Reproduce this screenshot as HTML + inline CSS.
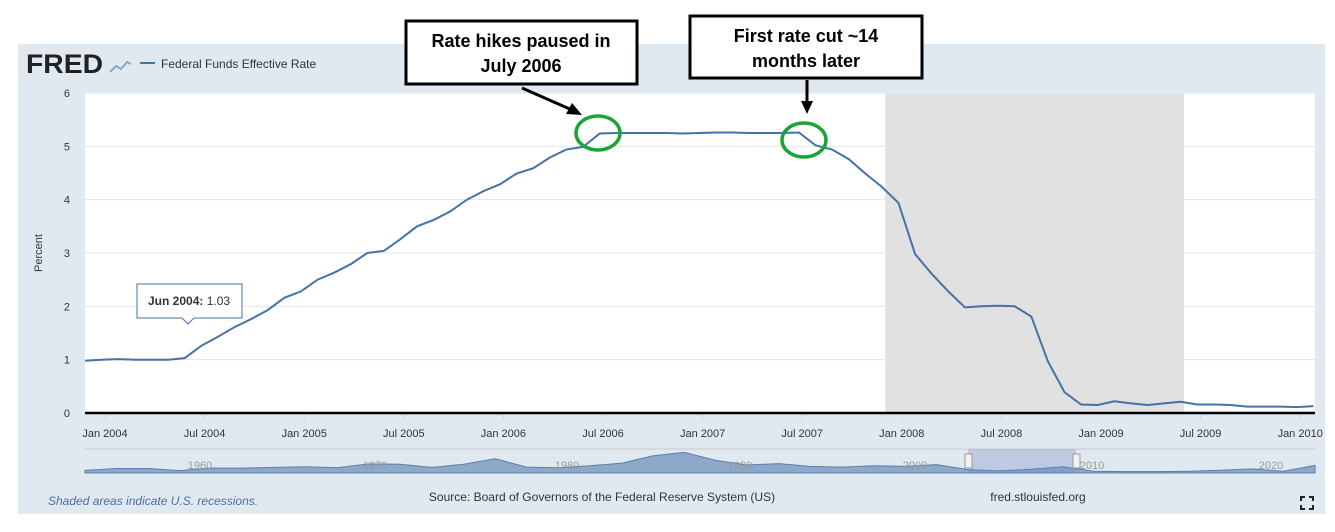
<!DOCTYPE html>
<html><head><meta charset="utf-8"><style>
body{margin:0;width:1335px;height:532px;background:#fff;overflow:hidden;font-family:"Liberation Sans",sans-serif}
svg{display:block}
</style></head><body>
<svg width="1335" height="532">
<rect x="18" y="44" width="1307" height="470" fill="#e1e9f0"/>
<text x="26" y="73" font-size="27" font-weight="bold" fill="#222" textLength="77" lengthAdjust="spacingAndGlyphs">FRED</text>
<polyline points="110,72 116,66 121,69 127,62 131,64" fill="none" stroke="#8aa8bf" stroke-width="2"/>
<line x1="140" y1="63" x2="155" y2="63" stroke="#4572a7" stroke-width="2"/>
<text x="161" y="68" font-size="12" fill="#333">Federal Funds Effective Rate</text>
<rect x="85" y="93" width="1230" height="320" fill="#fff"/>
<g id="rec"></g><g id="grid"></g><g id="xt"></g>
<line x1="85" y1="413" x2="1315" y2="413" stroke="#000" stroke-width="2.5"/>
<text transform="translate(42,253) rotate(-90)" font-size="11" fill="#333" text-anchor="middle">Percent</text>
<g id="nav"></g>
<path id="line" fill="none" stroke="#4572a7" stroke-width="2"/>
<g>
<path d="M137,284 H242 V318 H194 L188,324 L182,318 H137 Z" fill="#fff" stroke="#4572a7" stroke-width="1"/>
<text x="148" y="305" font-size="12" fill="#333"><tspan font-weight="bold">Jun 2004:</tspan> 1.03</text>
</g>
<text x="48" y="505" font-size="12" font-style="italic" fill="#4a6fa5">Shaded areas indicate U.S. recessions.</text>
<text x="602" y="501" font-size="12" fill="#333" text-anchor="middle">Source: Board of Governors of the Federal Reserve System (US)</text>
<text x="1038" y="501" font-size="12" fill="#333" text-anchor="middle">fred.stlouisfed.org</text>
<g stroke="#222" stroke-width="2" fill="none"><path d="M1301,501 v-4 h4 M1309,497 h4 v4 M1313,505 v4 h-4 M1305,509 h-4 v-4"/></g>
<g>
<rect x="406" y="21" width="231" height="63" fill="#fff" stroke="#000" stroke-width="3"/>
<text x="521" y="47" font-size="18" font-weight="bold" text-anchor="middle">Rate hikes paused in</text>
<text x="521" y="72" font-size="18" font-weight="bold" text-anchor="middle">July 2006</text>
<line x1="522" y1="88" x2="572" y2="110" stroke="#000" stroke-width="3"/>
<polygon points="582,115 566,114 572,103" fill="#000"/>
<ellipse cx="598" cy="133" rx="22" ry="17" fill="none" stroke="#1aa336" stroke-width="3.5"/>
</g>
<g>
<rect x="690" y="16" width="232" height="62" fill="#fff" stroke="#000" stroke-width="3"/>
<text x="806" y="42" font-size="18" font-weight="bold" text-anchor="middle">First rate cut ~14</text>
<text x="806" y="67" font-size="18" font-weight="bold" text-anchor="middle">months later</text>
<line x1="807" y1="80" x2="807" y2="104" stroke="#000" stroke-width="3"/>
<polygon points="807,114 801,101 813,101" fill="#000"/>
<ellipse cx="804" cy="140" rx="22" ry="17" fill="none" stroke="#1aa336" stroke-width="3.5"/>
</g>
</svg>
<script>
const values=[0.98,1.00,1.01,1.00,1.00,1.00,1.03,1.26,1.43,1.61,1.76,1.93,2.16,2.28,2.50,2.63,2.79,3.00,3.04,3.26,3.50,3.62,3.78,4.00,4.16,4.29,4.49,4.59,4.79,4.94,4.99,5.24,5.25,5.25,5.25,5.25,5.24,5.25,5.26,5.26,5.25,5.25,5.25,5.26,5.02,4.94,4.76,4.49,4.24,3.94,2.98,2.61,2.28,1.98,2.00,2.01,2.00,1.81,0.97,0.39,0.16,0.15,0.22,0.18,0.15,0.18,0.21,0.16,0.16,0.15,0.12,0.12,0.12,0.11,0.13];
const startMonth=-1.2; // first point just before Jan 2004
const yTicks=[0,1,2,3,4,5,6];
const xTickLabels=["Jan 2004","Jul 2004","Jan 2005","Jul 2005","Jan 2006","Jul 2006","Jan 2007","Jul 2007","Jan 2008","Jul 2008","Jan 2009","Jul 2009","Jan 2010"];
const xTickMonths=[0,6,12,18,24,30,36,42,48,54,60,66,72];
const recession=[47,65];
const navValues=[0.5,1,1,0.4,1.1,1.1,1.3,1.5,1.2,2.3,2.2,1.3,2.2,3.8,1.4,1.2,1.8,2.5,4.6,5.6,3.3,2.0,2.4,1.6,1.4,1.8,1.6,2.1,0.7,0.3,0.8,1.5,0.2,0.1,0.1,0.2,0.5,0.9,0.2,1.9];
const NS="http://www.w3.org/2000/svg";
const xS=m=>105+m*16.6, yS=v=>413-v*(320/6);
function mk(tag,attrs,parent){const e=document.createElementNS(NS,tag);for(const k in attrs)e.setAttribute(k,attrs[k]);document.getElementById(parent).appendChild(e);return e;}
const r=mk('rect',{x:xS(recession[0]),y:93,width:xS(recession[1])-xS(recession[0]),height:320,fill:'#e1e1e1'},'rec');


yTicks.forEach(v=>{
 if(v>0){const l=mk('line',{x1:85,x2:1315,y1:yS(v),y2:yS(v),stroke:'#e6e6e6'},'grid');
 
 }
 const t=mk('text',{x:70,y:yS(v)+4,'font-size':11,fill:'#333','text-anchor':'end'},'grid');t.textContent=v;
 
 
});
xTickLabels.forEach((s,i)=>{
 const x=xS(xTickMonths[i]);
 mk('line',{x1:x,x2:x,y1:414,y2:420,stroke:'#ccd6eb'},'xt');
 const t=mk('text',{x:x,y:437,'font-size':11,fill:'#333','text-anchor':'middle'},'xt');t.textContent=s;
 
 
});
document.getElementById('line').setAttribute('d',values.map((v,i)=>(i?'L':'M')+xS(startMonth+i).toFixed(1)+','+yS(v).toFixed(1)).join(''));
mk('line',{x1:85,x2:1315,y1:449,y2:449,stroke:'#ccc'},'nav');
const nw=1230/(navValues.length-1);
let d='M85,473 '+navValues.map((v,i)=>'L'+(85+i*nw).toFixed(1)+','+(472-v*3.5).toFixed(1)).join(' ')+' L1315,473 Z';
const np=mk('path',{d:d,fill:'#8ea8c9',stroke:'#5a7fb0','stroke-width':1},'nav');


const sel=mk('rect',{x:968,y:449,width:108,height:24,fill:'rgba(102,133,194,0.3)'},'nav');


[["1960",200],["1970",375],["1980",567],["1990",740],["2000",915],["2010",1092],["2020",1271]].forEach(([s,x])=>{const t=mk('text',{x:x,y:469,'font-size':11,fill:'#999','text-anchor':'middle'},'nav');t.textContent=s;});
[965,1073].forEach(x=>{const h=mk('rect',{x:x,y:454,width:7,height:14,fill:'#f2f2f2',stroke:'#999'},'nav');
 
 });
</script>
</body></html>
